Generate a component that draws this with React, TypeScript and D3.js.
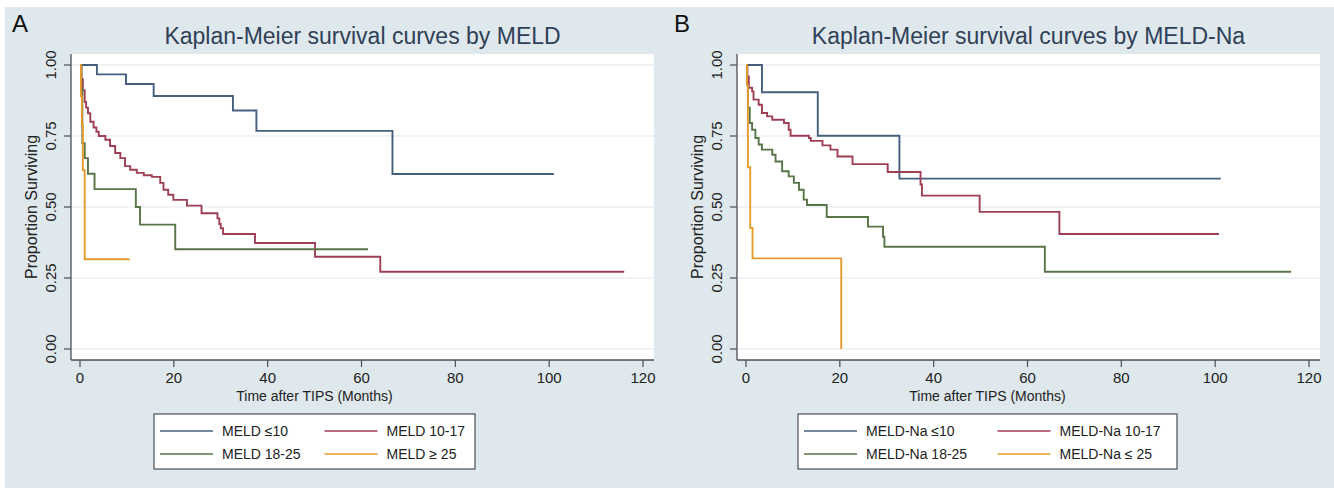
import React, { useRef, useEffect } from "react";
import { select, scaleLinear, line, curveStepAfter, format } from "d3";

const WIDTH = 1334;
const HEIGHT = 488;
const FONT = "'Liberation Sans', Arial, sans-serif";

const xTicks = [0, 20, 40, 60, 80, 100, 120];
const yTicks = [0, 0.25, 0.5, 0.75, 1];

// panel A: MELD groups (months, proportion surviving)
const meldLe10Time = [0, 3.6, 9.8, 15.7, 32.6, 37.6, 66.6, 101];
const meldLe10Surv = [1, 0.967, 0.933, 0.891, 0.84, 0.768, 0.616, 0.616];

const meld1017Time = [0, 0.3, 0.6, 1.0, 1.3, 1.7, 2.2, 2.9, 3.5, 4.0, 5.4, 6.4, 7.5, 8.6, 9.6, 10.7, 12.1, 13.6, 15.3, 17.1, 17.8, 18.8, 19.9, 22.8, 25.9, 29.3, 29.7, 30.0, 30.5, 37.3, 50.1, 64, 116];
const meld1017Surv = [1, 0.95, 0.91, 0.87, 0.85, 0.83, 0.8, 0.78, 0.765, 0.75, 0.737, 0.715, 0.69, 0.672, 0.644, 0.631, 0.62, 0.612, 0.606, 0.585, 0.561, 0.543, 0.525, 0.505, 0.478, 0.46, 0.44, 0.425, 0.405, 0.373, 0.325, 0.272, 0.272];

const meld1825Time = [0, 0.3, 0.5, 1.0, 1.7, 3.1, 11.9, 12.8, 20.3, 61.4];
const meld1825Surv = [1, 0.913, 0.725, 0.672, 0.617, 0.563, 0.5, 0.438, 0.351, 0.351];

const meldGe25Time = [0, 0.2, 0.4, 0.6, 1.0, 10.6];
const meldGe25Surv = [1, 0.89, 0.79, 0.63, 0.316, 0.316];

// panel B: MELD-Na groups
const naLe10Time = [0, 3.4, 15.3, 32.7, 101.2];
const naLe10Surv = [1, 0.904, 0.751, 0.6, 0.6];

const na1017Time = [0, 0.3, 0.6, 1.3, 1.6, 2.7, 3.4, 4.5, 5.6, 8.1, 9.1, 9.5, 13.4, 13.8, 16.3, 18.0, 19.5, 22.7, 30.2, 37.2, 37.5, 49.8, 66.8, 100.8];
const na1017Surv = [1, 0.96, 0.92, 0.907, 0.878, 0.86, 0.831, 0.819, 0.807, 0.796, 0.772, 0.751, 0.743, 0.733, 0.717, 0.702, 0.678, 0.651, 0.623, 0.579, 0.54, 0.483, 0.405, 0.405];

const na1825Time = [0, 0.2, 0.4, 0.8, 1.3, 2.0, 2.7, 3.4, 5.6, 6.3, 7.7, 9.1, 10.2, 11.3, 12.3, 13.0, 17.2, 26.0, 29.2, 29.5, 63.7, 116.2];
const na1825Surv = [1, 0.93, 0.85, 0.796, 0.772, 0.743, 0.72, 0.702, 0.684, 0.66, 0.626, 0.608, 0.585, 0.561, 0.526, 0.507, 0.465, 0.431, 0.395, 0.36, 0.272, 0.272];

const naLe25Time = [0, 0.2, 0.4, 0.9, 1.4, 20.3];
const naLe25Surv = [1, 0.93, 0.64, 0.426, 0.319, 0];

const meldLabels = ["MELD \u226410", "MELD 10-17", "MELD 18-25", "MELD \u2265 25"];
const naLabels = ["MELD-Na \u226410", "MELD-Na 10-17", "MELD-Na 18-25", "MELD-Na \u2264 25"];

const COLORS = ["#44607e", "#9e3f55", "#587548", "#e49b2c"];

const zip = (t: number[], s: number[]) => t.map((v, i) => [v, s[i]] as [number, number]);

const panels = [
  {
    letter: "A",
    letterX: 12,
    title: "Kaplan-Meier survival curves by MELD",
    off: 0,
    legendLeft: 154,
    legendWidth: 321,
    labels: meldLabels,
    series: [
      zip(meldLe10Time, meldLe10Surv),
      zip(meld1017Time, meld1017Surv),
      zip(meld1825Time, meld1825Surv),
      zip(meldGe25Time, meldGe25Surv),
    ],
  },
  {
    letter: "B",
    letterX: 674,
    title: "Kaplan-Meier survival curves by MELD-Na",
    off: 666,
    legendLeft: 798,
    legendWidth: 379,
    labels: naLabels,
    series: [
      zip(naLe10Time, naLe10Surv),
      zip(na1017Time, na1017Surv),
      zip(na1825Time, na1825Surv),
      zip(naLe25Time, naLe25Surv),
    ],
  },
];

export default function App() {
  const ref = useRef<SVGSVGElement>(null);

  useEffect(() => {
    const svg = select(ref.current);
    svg.selectAll("*").remove();
    svg.append("rect").attr("width", WIDTH).attr("height", HEIGHT).attr("fill", "#fff");

    // graph region (both panels share one band)
    svg.append("rect")
      .attr("x", 5)
      .attr("y", 7)
      .attr("width", WIDTH - 5)
      .attr("height", HEIGHT - 7)
      .attr("fill", "#dfe8ec");

    panels.forEach((p) => {
      const off = p.off;
      const g = svg.append("g");
      const left = 71 + off;
      const right = 654 + off;
      const top = 54;
      const bottom = 360;

      const x = scaleLinear().domain([0, 120]).range([80 + off, 643 + off]);
      const y = scaleLinear().domain([0, 1]).range([349, 65]);

      g.append("rect")
        .attr("x", left)
        .attr("y", top)
        .attr("width", right - left)
        .attr("height", bottom - top)
        .attr("fill", "#fff");

      // grid
      g.selectAll(".grid")
        .data(yTicks)
        .enter()
        .append("line")
        .attr("x1", left + 1)
        .attr("x2", right)
        .attr("y1", (d) => y(d))
        .attr("y2", (d) => y(d))
        .attr("stroke", "#e4eaed")
        .attr("stroke-width", 1.2);

      // series
      const path = line<[number, number]>()
        .x((d) => x(d[0]))
        .y((d) => y(d[1]))
        .curve(curveStepAfter);

      p.series.forEach((s, i) => {
        g.append("path")
          .datum(s)
          .attr("fill", "none")
          .attr("stroke", COLORS[i])
          .attr("stroke-width", 1.9)
          .attr("d", path);
      });

      // axes
      const axisColor = "#4a4f55";
      g.append("line")
        .attr("x1", left)
        .attr("x2", left)
        .attr("y1", top)
        .attr("y2", bottom)
        .attr("stroke", axisColor)
        .attr("stroke-width", 1.3);
      g.append("line")
        .attr("x1", left)
        .attr("x2", right)
        .attr("y1", bottom)
        .attr("y2", bottom)
        .attr("stroke", axisColor)
        .attr("stroke-width", 1.3);

      yTicks.forEach((t) => {
        g.append("line")
          .attr("x1", left - 7)
          .attr("x2", left)
          .attr("y1", y(t))
          .attr("y2", y(t))
          .attr("stroke", axisColor)
          .attr("stroke-width", 1.2);
        g.append("text")
          .attr("transform", `translate(${56 + off},${y(t)}) rotate(-90)`)
          .attr("text-anchor", "middle")
          .attr("font-family", FONT)
          .attr("font-size", 15)
          .attr("fill", "#222")
          .text(format(".2f")(t));
      });

      xTicks.forEach((t) => {
        g.append("line")
          .attr("x1", x(t))
          .attr("x2", x(t))
          .attr("y1", bottom)
          .attr("y2", bottom + 7)
          .attr("stroke", axisColor)
          .attr("stroke-width", 1.2);
        g.append("text")
          .attr("x", x(t))
          .attr("y", 383)
          .attr("text-anchor", "middle")
          .attr("font-family", FONT)
          .attr("font-size", 15)
          .attr("fill", "#222")
          .text(t);
      });

      // titles
      g.append("text")
        .attr("transform", `translate(${37 + off},${(top + bottom) / 2}) rotate(-90)`)
        .attr("text-anchor", "middle")
        .attr("font-family", FONT)
        .attr("font-size", 16)
        .attr("fill", "#222")
        .text("Proportion Surviving");

      const legendCenter = p.legendLeft + p.legendWidth / 2;
      g.append("text")
        .attr("x", legendCenter)
        .attr("y", 401)
        .attr("text-anchor", "middle")
        .attr("font-family", FONT)
        .attr("font-size", 14)
        .attr("fill", "#222")
        .text("Time after TIPS (Months)");

      g.append("text")
        .attr("x", (left + right) / 2)
        .attr("y", 44)
        .attr("text-anchor", "middle")
        .attr("font-family", FONT)
        .attr("font-size", 23)
        .attr("fill", "#2f4159")
        .text(p.title);

      g.append("text")
        .attr("x", p.letterX)
        .attr("y", 32)
        .attr("font-family", FONT)
        .attr("font-size", 24)
        .attr("fill", "#111")
        .text(p.letter);

      // legend
      g.append("rect")
        .attr("x", p.legendLeft)
        .attr("y", 414)
        .attr("width", p.legendWidth)
        .attr("height", 55)
        .attr("fill", "#fff")
        .attr("stroke", "#4a4f55")
        .attr("stroke-width", 1.2);

      p.labels.forEach((lab, i) => {
        const col = i % 2;
        const row = Math.floor(i / 2);
        const lx = p.legendLeft + (col === 0 ? 6 : p.legendWidth / 2 + 10);
        const ly = 431 + row * 23;
        g.append("line")
          .attr("x1", lx)
          .attr("x2", lx + 53)
          .attr("y1", ly)
          .attr("y2", ly)
          .attr("stroke", COLORS[i])
          .attr("stroke-width", 1.6);
        g.append("text")
          .attr("x", lx + 62)
          .attr("y", ly + 5)
          .attr("font-family", FONT)
          .attr("font-size", 14)
          .attr("fill", "#222")
          .text(lab);
      });
    });
  }, []);

  return (
    <svg
      ref={ref}
      width={WIDTH}
      height={HEIGHT}
      style={{ position: "absolute", left: 0, top: 0 }}
    />
  );
}
